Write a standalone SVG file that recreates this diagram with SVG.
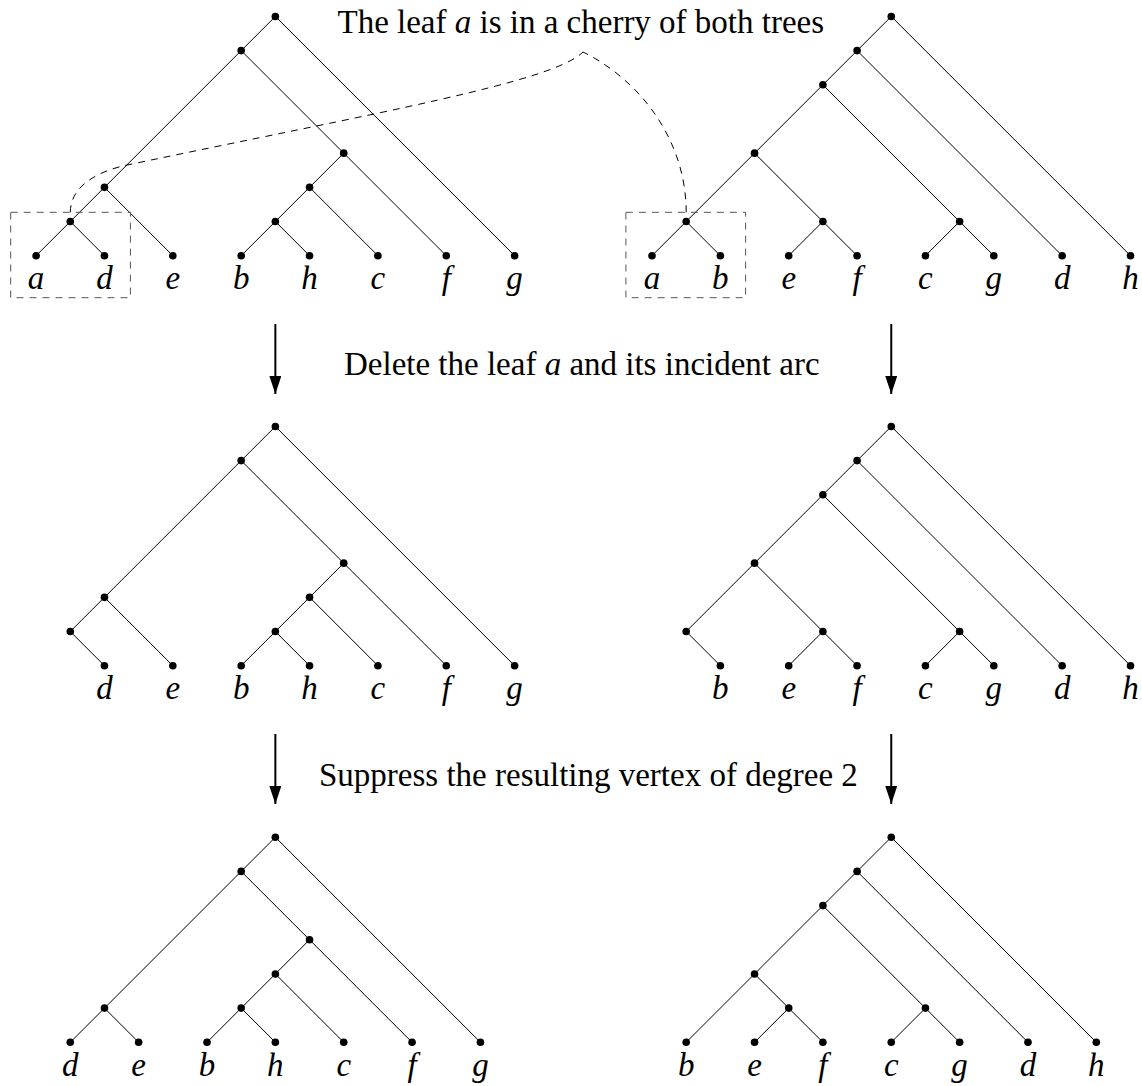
<svg xmlns="http://www.w3.org/2000/svg" width="1142" height="1086" viewBox="0 0 1142 1086">
  <style>
    .e { stroke: #000; stroke-width: 1; fill: none; }
    .v { fill: #000; }
    .lbl { font-family: "Liberation Serif", "Times New Roman", serif; font-style: italic; font-size: 33px; text-anchor: middle; fill: #000; }
    .cap { font-family: "Liberation Serif", "Times New Roman", serif; font-size: 33px; fill: #000; }
    .box { fill: none; stroke: #555; stroke-width: 1; stroke-dasharray: 7 6; }
    .link { fill: none; stroke: #000; stroke-width: 1; stroke-dasharray: 7 6; }
    .arr { stroke: #000; stroke-width: 2; fill: none; }
  </style>
  <defs>
    <marker id="head" viewBox="0 0 18 12" refX="18" refY="6" markerWidth="18" markerHeight="12" markerUnits="userSpaceOnUse" orient="auto">
      <path d="M0,0 L18,6 L0,12 Z" fill="#000"/>
    </marker>
  </defs>
  <rect width="1142" height="1086" fill="#fff"/>

  <!-- captions -->
  <text class="cap" x="337.5" y="33.3">The leaf <tspan font-style="italic">a</tspan> is in a cherry of both trees</text>
  <text class="cap" x="344" y="375">Delete the leaf <tspan font-style="italic">a</tspan> and its incident arc</text>
  <text class="cap" x="319" y="786">Suppress the resulting vertex of degree 2</text>

  <!-- arcs of all six trees, cherry boxes, pointer curve and step arrows -->
  <g id="connectors">
    <path class="e" d="M275.36,16.44 L241.18,50.62 M275.36,16.44 L514.62,255.7 M241.18,50.62 L104.46,187.34 M241.18,50.62 L343.72,153.16 M104.46,187.34 L70.28,221.52 M104.46,187.34 L172.82,255.7 M70.28,221.52 L36.1,255.7 M70.28,221.52 L104.46,255.7 M343.72,153.16 L309.54,187.34 M343.72,153.16 L446.26,255.7 M309.54,187.34 L275.36,221.52 M309.54,187.34 L377.9,255.7 M275.36,221.52 L241.18,255.7 M275.36,221.52 L309.54,255.7"/>
    <path class="e" d="M891.26,16.44 L857.08,50.62 M891.26,16.44 L1130.52,255.7 M857.08,50.62 L822.9,84.8 M857.08,50.62 L1062.16,255.7 M822.9,84.8 L754.54,153.16 M822.9,84.8 L959.62,221.52 M754.54,153.16 L686.18,221.52 M754.54,153.16 L822.9,221.52 M686.18,221.52 L652,255.7 M686.18,221.52 L720.36,255.7 M822.9,221.52 L788.72,255.7 M822.9,221.52 L857.08,255.7 M959.62,221.52 L925.44,255.7 M959.62,221.52 L993.8,255.7"/>
    <path class="e" d="M275.36,426.44 L241.18,460.62 M275.36,426.44 L514.62,665.7 M241.18,460.62 L104.46,597.34 M241.18,460.62 L343.72,563.16 M104.46,597.34 L70.28,631.52 M104.46,597.34 L172.82,665.7 M70.28,631.52 L104.46,665.7 M343.72,563.16 L309.54,597.34 M343.72,563.16 L446.26,665.7 M309.54,597.34 L275.36,631.52 M309.54,597.34 L377.9,665.7 M275.36,631.52 L241.18,665.7 M275.36,631.52 L309.54,665.7"/>
    <path class="e" d="M891.26,426.44 L857.08,460.62 M891.26,426.44 L1130.52,665.7 M857.08,460.62 L822.9,494.8 M857.08,460.62 L1062.16,665.7 M822.9,494.8 L754.54,563.16 M822.9,494.8 L959.62,631.52 M754.54,563.16 L686.18,631.52 M754.54,563.16 L822.9,631.52 M686.18,631.52 L720.36,665.7 M822.9,631.52 L788.72,665.7 M822.9,631.52 L857.08,665.7 M959.62,631.52 L925.44,665.7 M959.62,631.52 L993.8,665.7"/>
    <path class="e" d="M275.36,837.22 L241.18,871.4 M275.36,837.22 L480.44,1042.3 M241.18,871.4 L104.46,1008.12 M241.18,871.4 L309.54,939.76 M104.46,1008.12 L70.28,1042.3 M104.46,1008.12 L138.64,1042.3 M309.54,939.76 L275.36,973.94 M309.54,939.76 L412.08,1042.3 M275.36,973.94 L241.18,1008.12 M275.36,973.94 L343.72,1042.3 M241.18,1008.12 L207,1042.3 M241.18,1008.12 L275.36,1042.3"/>
    <path class="e" d="M891.26,837.22 L857.08,871.4 M891.26,837.22 L1096.34,1042.3 M857.08,871.4 L822.9,905.58 M857.08,871.4 L1027.98,1042.3 M822.9,905.58 L754.54,973.94 M822.9,905.58 L925.44,1008.12 M754.54,973.94 L686.18,1042.3 M754.54,973.94 L788.72,1008.12 M788.72,1008.12 L754.54,1042.3 M788.72,1008.12 L822.9,1042.3 M925.44,1008.12 L891.26,1042.3 M925.44,1008.12 L959.62,1042.3"/>

    <rect class="box" x="10.7" y="212.3" width="119.7" height="85.4"/>
    <rect class="box" x="625.9" y="212.3" width="119.7" height="85.4"/>
    <path class="link" d="M70.3,212.3 C70.3,185 100,171 125,165.5 C380,112 553,82 583,52"/>
    <path class="link" d="M686.2,212.3 C686.2,140 640,80 583,52"/>

    <line class="arr" x1="275.36" y1="324" x2="275.36" y2="394" marker-end="url(#head)"/>
    <line class="arr" x1="891.26" y1="324" x2="891.26" y2="394" marker-end="url(#head)"/>
    <line class="arr" x1="275.36" y1="734" x2="275.36" y2="804" marker-end="url(#head)"/>
    <line class="arr" x1="891.26" y1="734" x2="891.26" y2="804" marker-end="url(#head)"/>
  </g>

  <!-- tree 1: before, left -->
  <g id="t1-root"><circle class="v" cx="275.36" cy="16.44" r="3.8"/></g>
  <g id="t1-n06"><circle class="v" cx="241.18" cy="50.62" r="3.8"/></g>
  <g id="t1-n36"><circle class="v" cx="343.72" cy="153.16" r="3.8"/></g>
  <g id="t1-n02"><circle class="v" cx="104.46" cy="187.34" r="3.8"/></g>
  <g id="t1-n35"><circle class="v" cx="309.54" cy="187.34" r="3.8"/></g>
  <g id="t1-n01"><circle class="v" cx="70.28" cy="221.52" r="3.8"/></g>
  <g id="t1-n34"><circle class="v" cx="275.36" cy="221.52" r="3.8"/></g>
  <g id="t1-a"><circle class="v" cx="36.1" cy="255.7" r="3.8"/><text class="lbl" x="36.1" y="289.3">a</text></g>
  <g id="t1-d"><circle class="v" cx="104.46" cy="255.7" r="3.8"/><text class="lbl" x="104.46" y="289.3">d</text></g>
  <g id="t1-e"><circle class="v" cx="172.82" cy="255.7" r="3.8"/><text class="lbl" x="172.82" y="289.3">e</text></g>
  <g id="t1-b"><circle class="v" cx="241.18" cy="255.7" r="3.8"/><text class="lbl" x="241.18" y="289.3">b</text></g>
  <g id="t1-h"><circle class="v" cx="309.54" cy="255.7" r="3.8"/><text class="lbl" x="309.54" y="289.3">h</text></g>
  <g id="t1-c"><circle class="v" cx="377.9" cy="255.7" r="3.8"/><text class="lbl" x="377.9" y="289.3">c</text></g>
  <g id="t1-f"><circle class="v" cx="446.26" cy="255.7" r="3.8"/><text class="lbl" x="446.26" y="289.3">f</text></g>
  <g id="t1-g"><circle class="v" cx="514.62" cy="255.7" r="3.8"/><text class="lbl" x="514.62" y="289.3">g</text></g>

  <!-- tree 2: before, right -->
  <g id="t2-root"><circle class="v" cx="891.26" cy="16.44" r="3.8"/></g>
  <g id="t2-n06"><circle class="v" cx="857.08" cy="50.62" r="3.8"/></g>
  <g id="t2-n05"><circle class="v" cx="822.9" cy="84.8" r="3.8"/></g>
  <g id="t2-n03"><circle class="v" cx="754.54" cy="153.16" r="3.8"/></g>
  <g id="t2-n01"><circle class="v" cx="686.18" cy="221.52" r="3.8"/></g>
  <g id="t2-n23"><circle class="v" cx="822.9" cy="221.52" r="3.8"/></g>
  <g id="t2-n45"><circle class="v" cx="959.62" cy="221.52" r="3.8"/></g>
  <g id="t2-a"><circle class="v" cx="652" cy="255.7" r="3.8"/><text class="lbl" x="652" y="289.3">a</text></g>
  <g id="t2-b"><circle class="v" cx="720.36" cy="255.7" r="3.8"/><text class="lbl" x="720.36" y="289.3">b</text></g>
  <g id="t2-e"><circle class="v" cx="788.72" cy="255.7" r="3.8"/><text class="lbl" x="788.72" y="289.3">e</text></g>
  <g id="t2-f"><circle class="v" cx="857.08" cy="255.7" r="3.8"/><text class="lbl" x="857.08" y="289.3">f</text></g>
  <g id="t2-c"><circle class="v" cx="925.44" cy="255.7" r="3.8"/><text class="lbl" x="925.44" y="289.3">c</text></g>
  <g id="t2-g"><circle class="v" cx="993.8" cy="255.7" r="3.8"/><text class="lbl" x="993.8" y="289.3">g</text></g>
  <g id="t2-d"><circle class="v" cx="1062.16" cy="255.7" r="3.8"/><text class="lbl" x="1062.16" y="289.3">d</text></g>
  <g id="t2-h"><circle class="v" cx="1130.52" cy="255.7" r="3.8"/><text class="lbl" x="1130.52" y="289.3">h</text></g>

  <!-- tree 3: leaf a deleted, left -->
  <g id="t3-root"><circle class="v" cx="275.36" cy="426.44" r="3.8"/></g>
  <g id="t3-n06"><circle class="v" cx="241.18" cy="460.62" r="3.8"/></g>
  <g id="t3-n36"><circle class="v" cx="343.72" cy="563.16" r="3.8"/></g>
  <g id="t3-n02"><circle class="v" cx="104.46" cy="597.34" r="3.8"/></g>
  <g id="t3-n35"><circle class="v" cx="309.54" cy="597.34" r="3.8"/></g>
  <g id="t3-n01"><circle class="v" cx="70.28" cy="631.52" r="3.8"/></g>
  <g id="t3-n34"><circle class="v" cx="275.36" cy="631.52" r="3.8"/></g>
  <g id="t3-d"><circle class="v" cx="104.46" cy="665.7" r="3.8"/><text class="lbl" x="104.46" y="699.3">d</text></g>
  <g id="t3-e"><circle class="v" cx="172.82" cy="665.7" r="3.8"/><text class="lbl" x="172.82" y="699.3">e</text></g>
  <g id="t3-b"><circle class="v" cx="241.18" cy="665.7" r="3.8"/><text class="lbl" x="241.18" y="699.3">b</text></g>
  <g id="t3-h"><circle class="v" cx="309.54" cy="665.7" r="3.8"/><text class="lbl" x="309.54" y="699.3">h</text></g>
  <g id="t3-c"><circle class="v" cx="377.9" cy="665.7" r="3.8"/><text class="lbl" x="377.9" y="699.3">c</text></g>
  <g id="t3-f"><circle class="v" cx="446.26" cy="665.7" r="3.8"/><text class="lbl" x="446.26" y="699.3">f</text></g>
  <g id="t3-g"><circle class="v" cx="514.62" cy="665.7" r="3.8"/><text class="lbl" x="514.62" y="699.3">g</text></g>

  <!-- tree 4: leaf a deleted, right -->
  <g id="t4-root"><circle class="v" cx="891.26" cy="426.44" r="3.8"/></g>
  <g id="t4-n06"><circle class="v" cx="857.08" cy="460.62" r="3.8"/></g>
  <g id="t4-n05"><circle class="v" cx="822.9" cy="494.8" r="3.8"/></g>
  <g id="t4-n03"><circle class="v" cx="754.54" cy="563.16" r="3.8"/></g>
  <g id="t4-n01"><circle class="v" cx="686.18" cy="631.52" r="3.8"/></g>
  <g id="t4-n23"><circle class="v" cx="822.9" cy="631.52" r="3.8"/></g>
  <g id="t4-n45"><circle class="v" cx="959.62" cy="631.52" r="3.8"/></g>
  <g id="t4-b"><circle class="v" cx="720.36" cy="665.7" r="3.8"/><text class="lbl" x="720.36" y="699.3">b</text></g>
  <g id="t4-e"><circle class="v" cx="788.72" cy="665.7" r="3.8"/><text class="lbl" x="788.72" y="699.3">e</text></g>
  <g id="t4-f"><circle class="v" cx="857.08" cy="665.7" r="3.8"/><text class="lbl" x="857.08" y="699.3">f</text></g>
  <g id="t4-c"><circle class="v" cx="925.44" cy="665.7" r="3.8"/><text class="lbl" x="925.44" y="699.3">c</text></g>
  <g id="t4-g"><circle class="v" cx="993.8" cy="665.7" r="3.8"/><text class="lbl" x="993.8" y="699.3">g</text></g>
  <g id="t4-d"><circle class="v" cx="1062.16" cy="665.7" r="3.8"/><text class="lbl" x="1062.16" y="699.3">d</text></g>
  <g id="t4-h"><circle class="v" cx="1130.52" cy="665.7" r="3.8"/><text class="lbl" x="1130.52" y="699.3">h</text></g>

  <!-- tree 5: degree-2 vertex suppressed, left -->
  <g id="t5-root"><circle class="v" cx="275.36" cy="837.22" r="3.8"/></g>
  <g id="t5-n05"><circle class="v" cx="241.18" cy="871.4" r="3.8"/></g>
  <g id="t5-n25"><circle class="v" cx="309.54" cy="939.76" r="3.8"/></g>
  <g id="t5-n24"><circle class="v" cx="275.36" cy="973.94" r="3.8"/></g>
  <g id="t5-n01"><circle class="v" cx="104.46" cy="1008.12" r="3.8"/></g>
  <g id="t5-n23"><circle class="v" cx="241.18" cy="1008.12" r="3.8"/></g>
  <g id="t5-d"><circle class="v" cx="70.28" cy="1042.3" r="3.8"/><text class="lbl" x="70.28" y="1075.9">d</text></g>
  <g id="t5-e"><circle class="v" cx="138.64" cy="1042.3" r="3.8"/><text class="lbl" x="138.64" y="1075.9">e</text></g>
  <g id="t5-b"><circle class="v" cx="207" cy="1042.3" r="3.8"/><text class="lbl" x="207" y="1075.9">b</text></g>
  <g id="t5-h"><circle class="v" cx="275.36" cy="1042.3" r="3.8"/><text class="lbl" x="275.36" y="1075.9">h</text></g>
  <g id="t5-c"><circle class="v" cx="343.72" cy="1042.3" r="3.8"/><text class="lbl" x="343.72" y="1075.9">c</text></g>
  <g id="t5-f"><circle class="v" cx="412.08" cy="1042.3" r="3.8"/><text class="lbl" x="412.08" y="1075.9">f</text></g>
  <g id="t5-g"><circle class="v" cx="480.44" cy="1042.3" r="3.8"/><text class="lbl" x="480.44" y="1075.9">g</text></g>

  <!-- tree 6: degree-2 vertex suppressed, right -->
  <g id="t6-root"><circle class="v" cx="891.26" cy="837.22" r="3.8"/></g>
  <g id="t6-n05"><circle class="v" cx="857.08" cy="871.4" r="3.8"/></g>
  <g id="t6-n04"><circle class="v" cx="822.9" cy="905.58" r="3.8"/></g>
  <g id="t6-n02"><circle class="v" cx="754.54" cy="973.94" r="3.8"/></g>
  <g id="t6-n12"><circle class="v" cx="788.72" cy="1008.12" r="3.8"/></g>
  <g id="t6-n34"><circle class="v" cx="925.44" cy="1008.12" r="3.8"/></g>
  <g id="t6-b"><circle class="v" cx="686.18" cy="1042.3" r="3.8"/><text class="lbl" x="686.18" y="1075.9">b</text></g>
  <g id="t6-e"><circle class="v" cx="754.54" cy="1042.3" r="3.8"/><text class="lbl" x="754.54" y="1075.9">e</text></g>
  <g id="t6-f"><circle class="v" cx="822.9" cy="1042.3" r="3.8"/><text class="lbl" x="822.9" y="1075.9">f</text></g>
  <g id="t6-c"><circle class="v" cx="891.26" cy="1042.3" r="3.8"/><text class="lbl" x="891.26" y="1075.9">c</text></g>
  <g id="t6-g"><circle class="v" cx="959.62" cy="1042.3" r="3.8"/><text class="lbl" x="959.62" y="1075.9">g</text></g>
  <g id="t6-d"><circle class="v" cx="1027.98" cy="1042.3" r="3.8"/><text class="lbl" x="1027.98" y="1075.9">d</text></g>
  <g id="t6-h"><circle class="v" cx="1096.34" cy="1042.3" r="3.8"/><text class="lbl" x="1096.34" y="1075.9">h</text></g>
</svg>
